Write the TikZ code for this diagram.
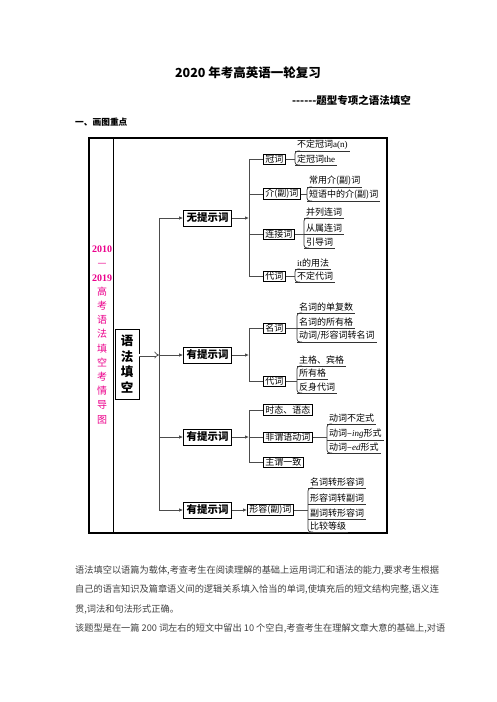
\documentclass[tikz,border=0pt]{standalone}
\usepackage{fontspec}
\setmainfont{Noto Sans CJK SC}
\newfontfamily\lat{Liberation Serif}
\usetikzlibrary{arrows.meta}

\begin{document}
\begin{tikzpicture}[x=1pt,y=-1pt,
  conn/.style={draw=black!70, line width=1pt},
  tip/.style={-{Latex[length=4pt,width=3.5pt]}},
  topbox/.style={draw, line width=0.8pt, inner xsep=3pt, inner ysep=3pt, font=\fontsize{10.5}{12}\selectfont\bfseries},
  subbox/.style={draw, line width=0.7pt, anchor=west, inner xsep=2pt, inner ysep=1pt, font=\fontsize{9}{10}\selectfont},
  uline/.style={draw=black!80, line width=0.7pt},
  item/.style={anchor=south west, inner xsep=2pt, inner ysep=1.5pt, font=\fontsize{9}{10}\selectfont,
    append after command={(\tikzlastnode.south west) edge[uline] (\tikzlastnode.south east)}},
  brk/.style={draw=black!80, line width=0.7pt, rounded corners=3pt},
  side/.style={text=magenta, align=center, inner sep=0pt, font=\fontsize{10}{14.2}\selectfont},
  para/.style={anchor=west, text=black!75, inner sep=0pt, font=\fontsize{9.2}{11}\selectfont}]
\useasboundingbox (0,0) rectangle (496,702);
\fill[white] (0,0) rectangle (496,702);

\node[font=\fontsize{12.5}{14}\selectfont\bfseries] (title) at (248,73) {2020 年考高英语一轮复习};
\node[anchor=west, inner sep=0pt, font=\fontsize{10.5}{12}\selectfont\bfseries] (sub) at (292,100) {-{}-{}-{}-{}-{}-{}题型专项之语法填空};
\node[anchor=west, inner sep=0pt, font=\fontsize{8.7}{10}\selectfont\bfseries] (sec) at (75,122) {一、画图重点};

\draw[line width=2.4pt] (89,138) rectangle (387,533);
\draw[line width=0.8pt] (113,138) -- (113,533);
\node[side] (tag) at (102,335) {{\lat\bfseries 2010}\\—\\{\lat\bfseries 2019}\\高\\考\\语\\法\\填\\空\\考\\情\\导\\图};

\node[draw, line width=0.8pt, align=center, inner sep=0pt, minimum width=24pt, minimum height=70pt, font=\fontsize{12.5}{15.5}\selectfont\bfseries] (yf) at (127,364) {语\\法\\填\\空};
\coordinate (hub) at (159,355);
\draw[black!70, double, double distance=1.6pt, line width=0.7pt, -{Implies}] (yf.east |- hub) -- (hub);

\node[topbox] (wu) at (207.5,218) {无提示词};
\node[topbox] (y1) at (207.5,355) {有提示词};
\node[topbox] (y2) at (207.5,437) {有提示词};
\node[topbox] (y3) at (207.5,510) {有提示词};
\draw[conn,tip] (hub) |- (wu.west);
\draw[conn,tip] (hub) -- (y1.west);
\draw[conn,tip] (hub) |- (y2.west);
\draw[conn,tip] (hub) |- (y3.west);

\coordinate (j1) at (249,218);
\coordinate (j2) at (249,355);
\coordinate (j3) at (249,437);
\draw[conn,tip] (wu.east) -- (j1);
\draw[conn,tip] (y1.east) -- (j2);
\draw[conn,tip] (y2.east) -- (j3);

\node[subbox] (gc) at (263,159) {冠词};
\node[subbox] (jf) at (263,194) {介(副)词};
\node[subbox] (lj) at (263,234) {连接词};
\node[subbox] (dc) at (263,276) {代词};
\node[subbox] (mc) at (263,328) {名词};
\node[subbox] (dd) at (263,381) {代词};
\node[subbox] (st) at (263,410) {时态、语态};
\node[subbox] (fw) at (263,437) {非谓语动词};
\node[subbox] (zw) at (263,462) {主谓一致};
\node[subbox] (xr) at (247,510) {形容(副)词};
\draw[conn] (gc.west) -| (j1);
\draw[conn] (jf.west) -| (j1);
\draw[conn] (lj.west) -| (j1);
\draw[conn] (dc.west) -| (j1);
\draw[conn] (mc.west) -| (j2);
\draw[conn] (dd.west) -| (j2);
\draw[conn] (st.west) -| (j3);
\draw[conn] (fw.west) -| (j3);
\draw[conn] (zw.west) -| (j3);
\draw[conn,tip] (y3.east) -- (xr.west);

\node[item] (a1) at (295,151) {不定冠词{\lat a(n)}};
\node[item] (a2) at (295,165) {定冠词{\lat the}};
\node[item] (b1) at (307,187) {常用介(副)词};
\node[item] (b2) at (307,201) {短语中的介(副)词};
\node[item] (c1) at (304,218) {并列连词};
\node[item] (c2) at (304,234) {从属连词};
\node[item] (c3) at (304,248) {引导词};
\node[item] (d1) at (295,269) {{\lat it}的用法};
\node[item] (d2) at (295,282) {不定代词};
\node[item] (e1) at (297,313) {名词的单复数};
\node[item] (e2) at (297,328) {名词的所有格};
\node[item] (e3) at (297,342) {动词/形容词转名词};
\node[item] (f1) at (297,366) {主格、宾格};
\node[item] (f2) at (297,379) {所有格};
\node[item] (f3) at (297,393) {反身代词};
\node[item] (h1) at (327,424) {动词不定式};
\node[item] (h2) at (327,440) {动词–{\lat\itshape ing}形式};
\node[item] (h3) at (327,453) {动词–{\lat\itshape ed}形式};
\node[item] (k1) at (308,488) {名词转形容词};
\node[item] (k2) at (308,504) {形容词转副词};
\node[item] (k3) at (308,519) {副词转形容词};
\node[item] (k4) at (308,532) {比较等级};

\draw[brk] ([xshift=5pt]a1.south west) -- (a1.south west) -- (a2.south west) -- ([xshift=5pt]a2.south west);
\draw[brk] ([xshift=5pt]b1.south west) -- (b1.south west) -- (b2.south west) -- ([xshift=5pt]b2.south west);
\draw[brk] ([xshift=5pt]c1.south west) -- (c1.south west) -- (c3.south west) -- ([xshift=5pt]c3.south west);
\draw[brk] ([xshift=5pt]d1.south west) -- (d1.south west) -- (d2.south west) -- ([xshift=5pt]d2.south west);
\draw[brk] ([xshift=5pt]e1.south west) -- (e1.south west) -- (e3.south west) -- ([xshift=5pt]e3.south west);
\draw[brk] ([xshift=5pt]f1.south west) -- (f1.south west) -- (f3.south west) -- ([xshift=5pt]f3.south west);
\draw[brk] ([xshift=5pt]h1.south west) -- (h1.south west) -- (h3.south west) -- ([xshift=5pt]h3.south west);
\draw[brk] ([xshift=5pt]k1.south west) -- (k1.south west) -- (k4.south west) -- ([xshift=5pt]k4.south west);
\draw[conn] (gc.east) -- (gc.east -| a1.south west);
\draw[conn] (jf.east) -- (jf.east -| b1.south west);
\draw[conn] (lj.east) -- (lj.east -| c1.south west);
\draw[conn] (dc.east) -- (dc.east -| d1.south west);
\draw[conn] (mc.east) -- (mc.east -| e1.south west);
\draw[conn] (dd.east) -- (dd.east -| f1.south west);
\draw[conn] (fw.east) -- (fw.east -| h1.south west);
\draw[conn] (xr.east) -- (xr.east -| k1.south west);

\node[para] (p1) at (75,570) {语法填空以语篇为载体,考查考生在阅读理解的基础上运用词汇和语法的能力,要求考生根据};
\node[para] (p2) at (75,589) {自己的语言知识及篇章语义间的逻辑关系填入恰当的单词,使填充后的短文结构完整,语义连};
\node[para] (p3) at (75,609) {贯,词法和句法形式正确。};
\node[para] (p4) at (75,628) {该题型是在一篇 200 词左右的短文中留出 10 个空白,考查考生在理解文章大意的基础上,对语};
\end{tikzpicture}
\end{document}
